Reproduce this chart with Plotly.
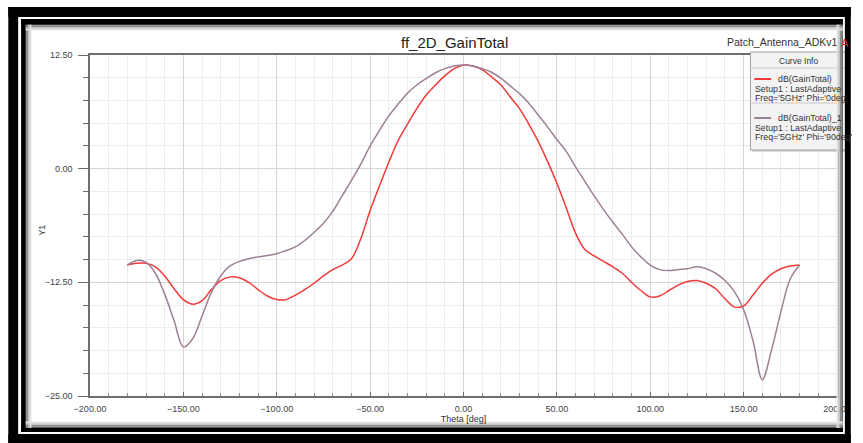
import plotly.graph_objects as go

# ---------------- data ----------------
theta_deg = list(range(-180, 181, 5))

gain_phi0 = [-10.6, -10.4, -10.4, -10.8, -11.8, -13.2, -14.4, -14.9, -14.5, -13.3,
             -12.3, -11.9, -12.0, -12.5, -13.3, -14.0, -14.4, -14.4, -13.9, -13.3,
             -12.6, -11.8, -11.1, -10.6, -9.9, -7.7, -4.6, -1.9, 0.7, 3.1,
             4.9, 6.6, 8.1, 9.2, 10.2, 11.0, 11.4, 11.3, 10.9, 10.1,
             9.2, 7.9, 6.6, 4.9, 3.0, 0.8, -1.6, -4.3, -7.1, -8.9,
             -9.6, -10.2, -10.8, -11.5, -12.5, -13.4, -14.1, -14.0, -13.4, -12.8,
             -12.4, -12.3, -12.6, -13.2, -14.3, -15.2, -15.1, -13.9, -12.6, -11.6,
             -11.0, -10.7, -10.6]

gain_phi90 = [-10.6, -10.1, -10.3, -11.5, -13.8, -16.7, -19.6, -18.7, -16.2, -13.6,
              -11.8, -10.7, -10.2, -9.9, -9.7, -9.55, -9.35, -9.0, -8.6, -7.9,
              -7.0, -6.0, -4.7, -3.0, -1.3, 0.5, 2.5, 4.2, 5.8, 7.1,
              8.3, 9.2, 9.9, 10.55, 11.0, 11.3, 11.4, 11.3, 11.0, 10.6,
              9.95, 9.1, 8.25, 7.2, 5.9, 4.6, 3.2, 1.9, 0.2, -1.4,
              -3.0, -4.5, -5.9, -7.2, -8.6, -9.7, -10.6, -11.1, -11.2, -11.1,
              -11.0, -10.8, -11.0, -11.5, -12.3, -13.5, -15.5, -18.9, -23.2, -19.9,
              -15.7, -12.1, -10.6]

series_names = ["dB(GainTotal)", "dB(GainTotal)_1"]
series_setup = ["Setup1 : LastAdaptive", "Setup1 : LastAdaptive"]
series_freq = ["Freq='5GHz' Phi='0deg'", "Freq='5GHz' Phi='90deg'"]
series_colors = ["#f23a3a", "#9e8096"]

x_ticks = [-200, -150, -100, -50, 0, 50, 100, 150, 200]
y_ticks = [12.5, 0, -12.5, -25]

chart_title = "ff_2D_GainTotal"
project_name = "Patch_Antenna_ADKv1"
x_title = "Theta [deg]"
y_title = "Y1"

# ---------------- layout geometry ----------------
W, H = 863, 443
ML, MR, MT, MB = 90, 14, 55, 47
PW, PH = W - ML - MR, H - MT - MB


def px(x):
    return (x - ML) / PW


def py(y):
    return 1 - (y - MT) / PH


FONT_REG = "Liberation Sans, Arial, sans-serif"

fig = go.Figure()
for vals, name, col in zip([gain_phi0, gain_phi90], series_names, series_colors):
    fig.add_trace(go.Scatter(x=theta_deg, y=vals, mode="lines", name=name,
                             line=dict(color=col, width=1.5, shape="spline", smoothing=1.0),
                             showlegend=False))

shapes = []


def rect(x0, y0, x1, y1, fill, line_color=None, lw=0, layer="above"):
    shapes.append(dict(type="rect", xref="paper", yref="paper",
                       x0=px(x0), x1=px(x1), y0=py(y0), y1=py(y1),
                       fillcolor=fill, layer=layer,
                       line=dict(color=line_color or fill, width=lw)))


def hline(x0, x1, y, color, lw=1):
    shapes.append(dict(type="line", xref="paper", yref="paper",
                       x0=px(x0), x1=px(x1), y0=py(y), y1=py(y),
                       line=dict(color=color, width=lw), layer="above"))


# legend box
rect(763, 54, 862, 152, "#d8d8d8")          # soft shadow
rect(761, 52, 860, 150, "#f3f3f3", "#a0a0a0", 1)
hline(762, 860, 68, "#c8c8c8", 1)
hline(762, 860, 103, "#c8c8c8", 1)
legend_y = [79, 118]
for i in range(2):
    hline(765, 782, legend_y[i], series_colors[i], 2)

# frame: gray shadow gradients
grads = ["#5a5a5a", "#8c8c8c", "#bdbdbd", "#e4e4e4"]
for k, c in enumerate(grads):
    o = 24 + k * 1.6
    rect(20, o, 855, o + 1.6, c)           # top
    rect(o, 20, o + 1.6, 432, c)           # left
    b = 428 - k * 1.6
    rect(20, b - 1.6, 855, b, c)           # bottom
    r = 855 - k * 1.6
    rect(r - 1.6, 20, r, 432, c)           # right
# inner black frame
rect(20, 19, 855, 24.5, "#000000")
rect(20, 19, 24.5, 432, "#000000")
rect(20, 428, 855, 432, "#000000")
# outer black frame
rect(7, 7, 863, 17, "#000000")
rect(7, 7, 17, 443, "#000000")
rect(7, 434, 863, 443, "#000000")
rect(857, 7, 863, 443, "#000000")

annotations = [
    dict(text=chart_title, x=px(460), y=py(42), xref="paper", yref="paper",
         showarrow=False, font=dict(family=FONT_REG, size=15, color="#222222"),
         xanchor="center", yanchor="middle"),
    dict(text=project_name, x=px(851), y=py(42), xref="paper", yref="paper",
         showarrow=False, font=dict(family=FONT_REG, size=10.5, color="#333333"),
         xanchor="right", yanchor="middle"),
    dict(text="A", x=px(851), y=py(43), xref="paper", yref="paper",
         showarrow=False, font=dict(family=FONT_REG, size=11, color="#d83030"),
         xanchor="left", yanchor="middle"),
    dict(text=y_title, x=px(41), y=py(230), xref="paper", yref="paper",
         showarrow=False, textangle=-90, font=dict(family=FONT_REG, size=9, color="#333333"),
         xanchor="center", yanchor="middle"),
    dict(text="Curve Info", x=px(810), y=py(61), xref="paper", yref="paper",
         showarrow=False, font=dict(family=FONT_REG, size=8.5, color="#333333"),
         xanchor="center", yanchor="middle"),
]
for i in range(2):
    y0 = legend_y[i]
    annotations.append(dict(text=series_names[i], x=px(787), y=py(y0), xref="paper", yref="paper",
                            showarrow=False, font=dict(family=FONT_REG, size=8.8, color="#333333"),
                            xanchor="left", yanchor="middle"))
    annotations.append(dict(text=series_setup[i], x=px(764), y=py(y0 + 9.5), xref="paper", yref="paper",
                            showarrow=False, font=dict(family=FONT_REG, size=8.8, color="#333333"),
                            xanchor="left", yanchor="middle"))
    annotations.append(dict(text=series_freq[i], x=px(764), y=py(y0 + 19), xref="paper", yref="paper",
                            showarrow=False, font=dict(family=FONT_REG, size=8.8, color="#333333"),
                            xanchor="left", yanchor="middle"))

fig.update_layout(
    width=W, height=H,
    margin=dict(l=ML, r=MR, t=MT, b=MB, pad=0),
    paper_bgcolor="white", plot_bgcolor="white",
    shapes=shapes, annotations=annotations,
    showlegend=False,
    font=dict(family=FONT_REG, size=9, color="#444444"),
)

fig.update_xaxes(
    range=[-200, 200], tickvals=x_ticks, tickformat=".2f",
    showgrid=True, gridcolor="#d6d6d6", gridwidth=1,
    showline=True, linecolor="#6e6e6e", linewidth=1.5, mirror=True,
    ticks="inside", ticklen=4, tickcolor="#6e6e6e",
    minor=dict(dtick=10, showgrid=True, gridcolor="#ececec", gridwidth=1,
               ticks="inside", ticklen=3, tickcolor="#8a8a8a"),
    zeroline=False,
    tickfont=dict(family=FONT_REG, size=9, color="#444444"),
    title=dict(text=x_title, font=dict(family=FONT_REG, size=9, color="#333333"), standoff=1),
    ticklabelstandoff=3,
)
fig.update_yaxes(
    range=[-25, 12.5], tickvals=y_ticks, tickformat=".2f",
    showgrid=True, gridcolor="#d6d6d6", gridwidth=1,
    showline=True, linecolor="#6e6e6e", linewidth=1.5, mirror=True,
    ticks="outside", ticklen=10, tickcolor="#6e6e6e",
    minor=dict(dtick=2.5, showgrid=True, gridcolor="#ececec", gridwidth=1,
               ticks="outside", ticklen=5, tickcolor="#6e6e6e"),
    zeroline=False,
    tickfont=dict(family=FONT_REG, size=9, color="#444444"),
    ticklabelstandoff=4,
)

fig.write_html("out.html")
